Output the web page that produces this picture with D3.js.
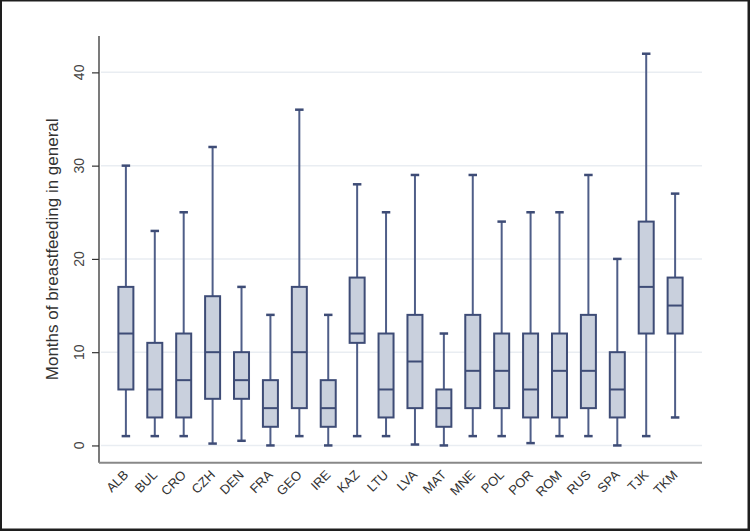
<!DOCTYPE html>
<html><head><meta charset="utf-8">
<script src="https://cdn.jsdelivr.net/npm/d3@7"></script>
<style>
html,body{margin:0;padding:0;background:#1e1e1e;}
svg{display:block;}
</style></head>
<body>
<svg id="chart" width="750" height="531"></svg>
<script>
const countries = ["ALB","BUL","CRO","CZH","DEN","FRA","GEO","IRE","KAZ","LTU","LVA","MAT","MNE","POL","POR","ROM","RUS","SPA","TJK","TKM"];
const whiskerLow = [1,1,1,0.2,0.5,0,1,0,1,1,0.1,0,1,1,0.25,1,1,0,1,3];
const q1Values   = [6,3,3,5,5,2,4,2,11,3,4,2,4,4,3,3,4,3,12,12];
const medians    = [12,6,7,10,7,4,10,4,12,6,9,4,8,8,6,8,8,6,17,15];
const q3Values   = [17,11,12,16,10,7,17,7,18,12,14,6,14,12,12,12,14,10,24,18];
const whiskerHigh= [30,23,25,32,17,14,36,14,28,25,29,12,29,24,25,25,29,20,42,27];
const yTicks = [0,10,20,30,40];
const yLabel = "Months of breastfeeding in general";

(function(){
const svg = d3.select("#chart");
svg.append("rect").attr("x",2).attr("y",1.5).attr("width",745.5).attr("height",527).attr("fill","#ffffff");

const pL = 99, pR = 702, pT = 36, pB = 462.7;
const x = d3.scalePoint().domain(countries).range([pL, pR]).padding(0.93);
const y = d3.scaleLinear().domain([-1.85, 43.9]).range([pB, pT]);
const font = "'Liberation Sans', Arial, sans-serif";

svg.append("g").selectAll("line").data(yTicks).join("line")
  .attr("x1", pL+2).attr("x2", pR)
  .attr("y1", d=>y(d)).attr("y2", d=>y(d))
  .attr("stroke","#e9edf2").attr("stroke-width",1.5);

const yAxis = svg.append("g").attr("transform",`translate(${pL},0)`)
  .call(d3.axisLeft(y).tickValues(yTicks).tickSize(7).tickFormat(""));
yAxis.select(".domain").attr("d",`M0,${pT}V${pB}`).attr("stroke","#333").attr("stroke-width",1.3);
yAxis.selectAll(".tick line").attr("stroke","#333").attr("stroke-width",1.2);
yAxis.selectAll(".tick text").remove();

// y tick labels along vertical paths (upward)
const defs = svg.append("defs");
defs.selectAll("path.yp").data(yTicks).join("path").attr("class","yp")
  .attr("id",(d,i)=>"yp"+i)
  .attr("d", d=>`M84,${y(d)+40}L84,${y(d)-40}`);
svg.append("g").selectAll("text").data(yTicks).join("text")
  .attr("font-family",font).attr("font-size",14).attr("fill","#444")
  .append("textPath").attr("href",(d,i)=>"#yp"+i)
  .attr("startOffset","50%").attr("text-anchor","middle")
  .text(d=>d3.format("d")(d));

const xAxis = svg.append("g").attr("transform",`translate(0,${pB})`)
  .call(d3.axisBottom(x).tickSize(0).tickFormat(""));
xAxis.select(".domain").attr("d",`M${pL},0H${pR}`).attr("stroke","#888").attr("stroke-width",2);
xAxis.selectAll(".tick text").remove();

// x labels with CSS transform
svg.append("g").selectAll("text").data(countries).join("text")
  .style("transform", d=>`translate(${x(d)}px,${pB+9.8}px) rotate(-45deg)`)
  .style("transform-origin","0 0")
  .attr("text-anchor","end").attr("dy","0.35em")
  .attr("font-family",font).attr("font-size",13).attr("fill","#333")
  .text(d=>d);

svg.append("text").attr("transform",`translate(57.5,${(pT+pB)/2}) rotate(-90)`)
  .attr("text-anchor","middle").attr("font-family",font)
  .attr("font-size",17).attr("fill","#333").text(yLabel);

const data = countries.map((c,i)=>({c, lo:whiskerLow[i], q1:q1Values[i], med:medians[i], q3:q3Values[i], hi:whiskerHigh[i]}));
const stroke = "#3e4c76", fill = "#c9d0dd", wcol = "#4f5e88";
const bw = 15, cw = 8.5;
const g = svg.append("g").selectAll("g").data(data).join("g").attr("transform", d=>`translate(${x(d.c)},0)`);
g.append("line").attr("y1",d=>y(d.hi)).attr("y2",d=>y(d.q3)).attr("stroke",wcol).attr("stroke-width",2);
g.append("line").attr("y1",d=>y(d.q1)).attr("y2",d=>y(d.lo)).attr("stroke",wcol).attr("stroke-width",2);
g.append("line").attr("x1",-cw/2).attr("x2",cw/2).attr("y1",d=>y(d.hi)).attr("y2",d=>y(d.hi)).attr("stroke",stroke).attr("stroke-width",2.5);
g.append("line").attr("x1",-cw/2).attr("x2",cw/2).attr("y1",d=>y(d.lo)).attr("y2",d=>y(d.lo)).attr("stroke",stroke).attr("stroke-width",2.5);
g.append("rect").attr("x",-bw/2).attr("width",bw).attr("y",d=>y(d.q3)).attr("height",d=>y(d.q1)-y(d.q3))
  .attr("fill",fill).attr("stroke",stroke).attr("stroke-width",2);
g.append("line").attr("x1",-bw/2).attr("x2",bw/2).attr("y1",d=>y(d.med)).attr("y2",d=>y(d.med)).attr("stroke",stroke).attr("stroke-width",2);
})();
</script>
</body></html>
